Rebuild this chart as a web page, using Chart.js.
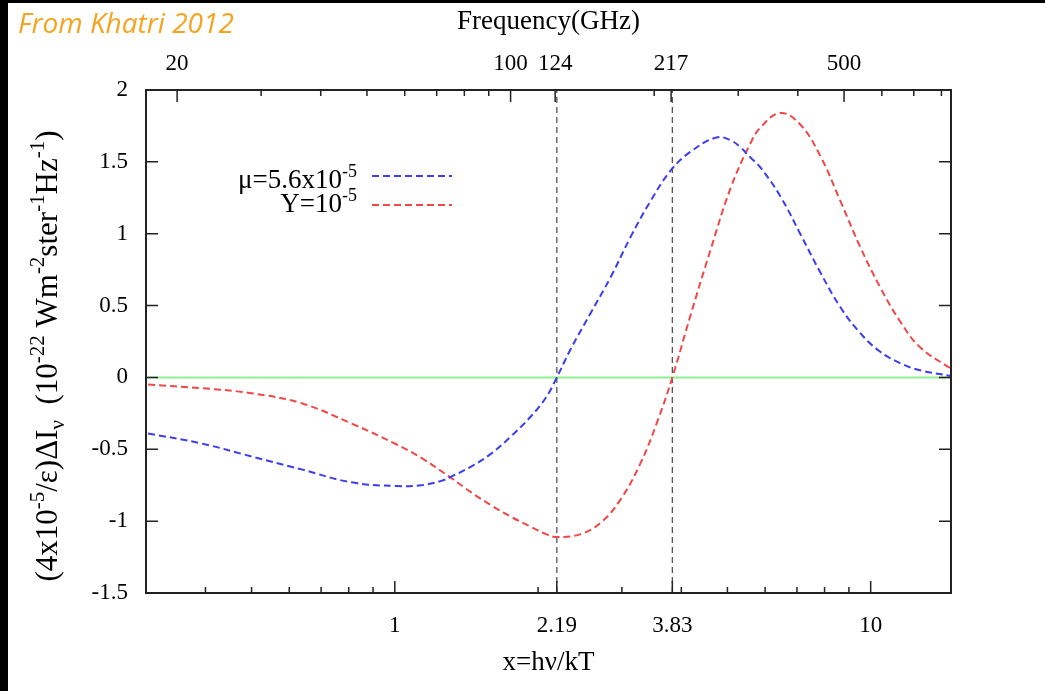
<!DOCTYPE html>
<html lang="en">
<head>
  <meta charset="UTF-8" />
  <title>mu and y distortions (Khatri 2012)</title>
  <script src="https://cdn.jsdelivr.net/npm/chart.js"></script>
  <style>
    html, body { margin: 0; padding: 0; background: #fff; }
    canvas { display: block; }
  </style>
</head>
<body>
  <canvas id="chart" width="1045" height="691"></canvas>

  <script>
    // values: x = h nu / kT, y in the plotted units
    const xMu = [0.303, 0.393, 0.500, 0.637, 0.810, 1.007, 1.137, 1.252, 1.314, 1.447, 1.594, 1.755, 1.933, 2.078, 2.19,
                 2.344, 2.582, 2.844, 3.132, 3.450, 3.80, 4.18, 4.74, 5.08, 5.33, 5.59, 5.87, 6.46, 7.11, 7.84,
                 8.63, 9.50, 10.46, 11.53, 12.70, 14.75];
    const yMu = [-0.39, -0.46, -0.55, -0.64, -0.73, -0.756, -0.75, -0.72, -0.69, -0.62, -0.53, -0.41, -0.27, -0.14, 0,
                 0.20, 0.45, 0.70, 0.98, 1.23, 1.44, 1.57, 1.67, 1.65, 1.60, 1.53, 1.46, 1.26, 1.00, 0.73,
                 0.49, 0.31, 0.18, 0.10, 0.05, 0.01];

    const xY = [0.303, 0.393, 0.500, 0.637, 0.810, 1.007, 1.137, 1.314, 1.447, 1.594, 1.755, 1.933, 2.078, 2.19, 2.46,
                2.71, 2.98, 3.28, 3.55, 3.83, 4.18, 4.61, 5.08, 5.59, 5.87, 6.46, 7.11, 7.84, 8.63, 9.50, 10.46,
                11.53, 12.70, 14.75];
    const yY = [-0.05, -0.075, -0.11, -0.18, -0.32, -0.465, -0.56, -0.70, -0.80, -0.89, -0.97, -1.04, -1.09, -1.11, -1.09,
                -1.01, -0.85, -0.60, -0.32, 0, 0.43, 0.89, 1.32, 1.63, 1.74, 1.84, 1.76, 1.54, 1.23, 0.91, 0.63,
                0.39, 0.21, 0.06];

    const markerX = [2.19, 3.83];
    const xRange = [0.303, 14.75];
    const yRange = [-1.5, 2];
    const yTicks = [-1.5, -1, -0.5, 0, 0.5, 1, 1.5, 2];
    const xLabels = [1, 2.19, 3.83, 10];
    const xMinor = [0.4, 0.5, 0.6, 0.7, 0.8, 0.9, 2, 3, 4, 5, 6, 7, 8, 9];
    const ghzPerX = 56.8;
    const fLabels = [20, 100, 124, 217, 500];
    const fMinor = [30, 40, 50, 60, 70, 80, 90, 200, 300, 400, 600, 700, 800];

    const muLabel = [['μ=5.6x10', 0], ['-5', 1]];
    const yLabel = [['Y=10', 0], ['-5', 1]];
    const yTitle = [['(4x10', 0], ['-5', 1], ['/ε)ΔI', 0], ['ν', -1], ['  (10', 0], ['-22', 1], [' Wm', 0], ['-2', 1],
                    ['ster', 0], ['-1', 1], ['Hz', 0], ['-1', 1], [')', 0]];

    const BLUE = '#3c3cf0';
    const RED = '#f04848';
    const SERIF = '"Liberation Serif", "Times New Roman", serif';

    function pts(xs, ys) {
      return xs.map((x, i) => ({ x: x, y: ys[i] }));
    }

    function richWidth(ctx, parts, size, small) {
      let w = 0;
      parts.forEach(([t, k]) => {
        ctx.font = (k ? small : size) + 'px ' + SERIF;
        w += ctx.measureText(t).width;
      });
      return w;
    }

    function drawRich(ctx, parts, x, y, size, small, align) {
      const w = richWidth(ctx, parts, size, small);
      let cx = align === 'right' ? x - w : align === 'center' ? x - w / 2 : x;
      ctx.textAlign = 'left';
      ctx.textBaseline = 'alphabetic';
      parts.forEach(([t, k]) => {
        ctx.font = (k ? small : size) + 'px ' + SERIF;
        const dy = k === 1 ? -size * 0.42 : k === -1 ? size * 0.22 : 0;
        ctx.fillText(t, cx, y + dy);
        cx += ctx.measureText(t).width;
      });
    }

    const decor = {
      id: 'decor',
      beforeDraw(chart) {
        const ctx = chart.ctx;
        ctx.save();
        ctx.fillStyle = '#fff';
        ctx.fillRect(0, 0, chart.width, chart.height);
        ctx.fillStyle = '#000';
        ctx.fillRect(0, 0, 8, chart.height);
        ctx.fillRect(0, 0, chart.width, 3);
        ctx.restore();
      },
      afterDatasetsDraw(chart) {
        const { ctx, chartArea: a, scales } = chart;
        ctx.save();
        ctx.strokeStyle = '#222';
        ctx.lineWidth = 1.5;
        ctx.beginPath();
        const vt = (px, len, bottom) => {
          if (bottom) { ctx.moveTo(px, a.bottom); ctx.lineTo(px, a.bottom - len); }
          else { ctx.moveTo(px, a.top); ctx.lineTo(px, a.top + len); }
        };
        xLabels.forEach(v => vt(scales.x.getPixelForValue(v), 12, true));
        xMinor.forEach(v => vt(scales.x.getPixelForValue(v), 6, true));
        fLabels.forEach(v => vt(scales.x2.getPixelForValue(v), 12, false));
        fMinor.forEach(v => vt(scales.x2.getPixelForValue(v), 6, false));
        yTicks.forEach(v => {
          const py = scales.y.getPixelForValue(v);
          ctx.moveTo(a.left, py); ctx.lineTo(a.left + 12, py);
          ctx.moveTo(a.right, py); ctx.lineTo(a.right - 12, py);
        });
        ctx.stroke();
        ctx.lineWidth = 2;
        ctx.strokeRect(a.left, a.top, a.right - a.left, a.bottom - a.top);

        // key
        ctx.fillStyle = '#000';
        drawRich(ctx, muLabel, 357, 188, 27, 18, 'right');
        drawRich(ctx, yLabel, 357, 212, 27, 18, 'right');
        ctx.lineWidth = 2;
        ctx.setLineDash([7, 4]);
        ctx.strokeStyle = BLUE;
        ctx.beginPath(); ctx.moveTo(372, 176); ctx.lineTo(452, 176); ctx.stroke();
        ctx.strokeStyle = RED;
        ctx.beginPath(); ctx.moveTo(372, 205); ctx.lineTo(452, 205); ctx.stroke();
        ctx.setLineDash([]);
        ctx.restore();
      },
      afterDraw(chart) {
        const ctx = chart.ctx;
        ctx.save();
        ctx.fillStyle = '#f6a41f';
        ctx.font = 'italic 28px "Open Sans", sans-serif';
        ctx.textBaseline = 'middle';
        ctx.textAlign = 'left';
        ctx.fillText('From Khatri 2012', 18, 25);

        ctx.fillStyle = '#000';
        ctx.translate(57, 356);
        ctx.rotate(-Math.PI / 2);
        drawRich(ctx, yTitle, 0, 0, 31, 21, 'center');
        ctx.restore();
      }
    };

    const tickFont = { family: SERIF, size: 23 };
    const titleFont = { family: SERIF, size: 27 };

    new Chart(document.getElementById('chart'), {
      type: 'scatter',
      data: {
        datasets: [
          {
            label: 'mu',
            data: pts(xMu, yMu),
            showLine: true,
            borderColor: BLUE,
            borderWidth: 2,
            borderDash: [7, 4],
            pointRadius: 0,
            tension: 0.4,
            order: 0
          },
          {
            label: 'Y',
            data: pts(xY, yY),
            showLine: true,
            borderColor: RED,
            borderWidth: 2,
            borderDash: [7, 4],
            pointRadius: 0,
            tension: 0.4,
            order: 0
          },
          ...markerX.map(m => ({
            label: 'x=' + m,
            data: [{ x: m, y: yRange[0] }, { x: m, y: yRange[1] }],
            showLine: true,
            borderColor: '#555',
            borderWidth: 1.3,
            borderDash: [6, 4],
            pointRadius: 0,
            order: 1
          })),
          {
            label: 'zero',
            data: [{ x: xRange[0], y: 0 }, { x: xRange[1], y: 0 }],
            showLine: true,
            borderColor: '#8ef08e',
            borderWidth: 2,
            pointRadius: 0,
            order: 2
          }
        ]
      },
      options: {
        responsive: false,
        animation: false,
        devicePixelRatio: 1,
        layout: { padding: { left: 0, right: 94, top: 0, bottom: 0 } },
        plugins: { legend: { display: false }, tooltip: { enabled: false } },
        scales: {
          x: {
            type: 'logarithmic',
            position: 'bottom',
            min: xRange[0],
            max: xRange[1],
            afterBuildTicks: s => { s.ticks = xLabels.map(v => ({ value: v })); },
            afterFit: s => { s.height = 98; },
            grid: { display: false, drawTicks: false },
            border: { display: false },
            ticks: { autoSkip: false, maxRotation: 0, padding: 19, color: '#000', font: tickFont, callback: v => String(v) },
            title: { display: true, text: 'x=hν/kT', color: '#000', font: titleFont, padding: { top: 0, bottom: 12 } }
          },
          x2: {
            type: 'logarithmic',
            position: 'top',
            min: xRange[0] * ghzPerX,
            max: xRange[1] * ghzPerX,
            afterBuildTicks: s => { s.ticks = fLabels.map(v => ({ value: v })); },
            afterFit: s => { s.height = 90; },
            grid: { display: false, drawTicks: false },
            border: { display: false },
            ticks: { autoSkip: false, maxRotation: 0, padding: 12, color: '#000', font: tickFont, callback: v => String(v) },
            title: { display: true, text: 'Frequency(GHz)', color: '#000', font: titleFont, padding: { top: 6, bottom: 0 } }
          },
          y: {
            type: 'linear',
            min: yRange[0],
            max: yRange[1],
            afterBuildTicks: s => { s.ticks = yTicks.map(v => ({ value: v })); },
            afterFit: s => { s.width = 146; },
            grid: { display: false, drawTicks: false },
            border: { display: false },
            ticks: { autoSkip: false, padding: 18, color: '#000', font: tickFont, callback: v => String(v) }
          }
        }
      },
      plugins: [decor]
    });
  </script>
</body>
</html>
